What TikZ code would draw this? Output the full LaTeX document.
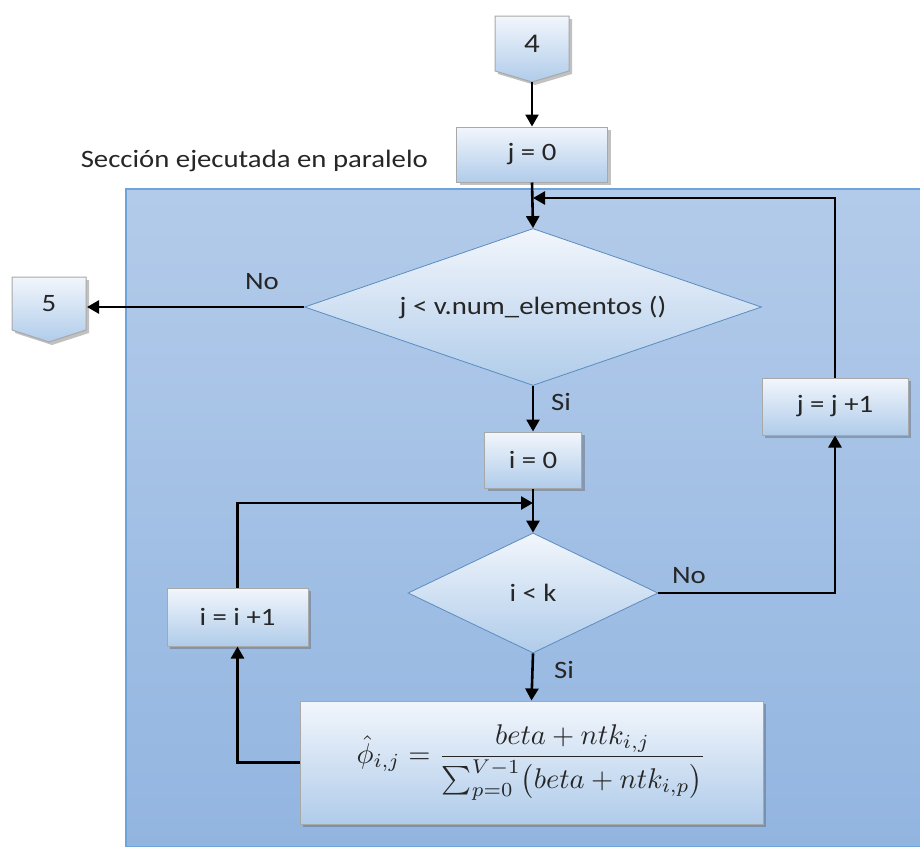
\documentclass[tikz,border=0pt]{standalone}
\usepackage{fontspec}
\setmainfont{Carlito}[FakeStretch=1.15]
\usepackage{graphicx}
\usetikzlibrary{shapes.geometric,arrows.meta,shadows}
\definecolor{regtop}{HTML}{B3CBEA}
\definecolor{regbot}{HTML}{92B5E0}
\definecolor{regborder}{HTML}{6FA3DB}
\definecolor{boxtop}{HTML}{F2F6FC}
\definecolor{boxbot}{HTML}{B0CCEA}
\definecolor{boxborder}{HTML}{A8A8A8}
\definecolor{dborder}{HTML}{5A8CC0}
\definecolor{txt}{HTML}{262626}
\tikzset{
  procbox/.style={rectangle, draw=boxborder, line width=1pt, top color=boxtop, bottom color=boxbot,
    drop shadow={shadow xshift=3pt, shadow yshift=-3pt, opacity=0.35, fill=black!70},
    inner sep=0pt, text=txt, font=\fontsize{25}{28}\selectfont},
  decision/.style={diamond, draw=dborder, line width=0.8pt, top color=boxtop, bottom color=boxbot,
    inner sep=0pt, text=txt, font=\fontsize{25}{28}\selectfont},
  offpage/.style={draw=boxborder, line width=1pt, top color=boxtop, bottom color=boxbot,
    drop shadow={shadow xshift=3pt, shadow yshift=-3pt, opacity=0.35, fill=black!70}},
  lbl/.style={text=txt, font=\fontsize{25}{28}\selectfont, inner sep=0pt},
  conn/.style={line width=2.6pt, black},
  arr/.style={conn, -{Triangle[length=12pt,width=13pt]}},
}
\begin{document}
\begin{tikzpicture}[x=1pt,y=-1pt]
\useasboundingbox (0,0) rectangle (920,846);
% parallel region
\path[top color=regtop, bottom color=regbot, draw=regborder, line width=1.5pt]
  (126,189) rectangle (921,847);
\node[lbl, anchor=east] (sec) at (428,161) {Sección ejecutada en paralelo};
% off-page connector 4
\path[offpage] (495,16) -- (569,16) -- (569,71) -- (532,82) -- (495,71) -- cycle;
\node[lbl, font=\fontsize{27}{30}\selectfont] (n4) at (532,44) {4};
\coordinate (n4s) at (532,82);
% off-page connector 5
\path[offpage] (12,277) -- (86,277) -- (86,330) -- (49,342) -- (12,330) -- cycle;
\node[lbl] (n5) at (49,304) {5};
\coordinate (n5e) at (87,307);
% nodes
\node[procbox, minimum width=151, minimum height=55] (j0) at (532,154.5) {j = 0};
\node[decision, minimum width=457, minimum height=157, aspect=2.9] (d1) at (533,307) {j < v.num\_elementos ()};
\node[procbox, minimum width=97, minimum height=56] (i0) at (533,460) {i = 0};
\node[procbox, minimum width=146, minimum height=57] (jj) at (835,406.5) {j = j +1};
\node[decision, minimum width=250, minimum height=120, aspect=2.08] (d2) at (533,593) {i < k};
\node[procbox, minimum width=141, minimum height=58] (ii) at (237.5,617) {i = i +1};
\node[procbox, minimum width=463, minimum height=123, font=\normalsize] (f) at (531.5,762.5)
  {\scalebox{2.85}{$\displaystyle \hat{\phi}_{i,j} = \frac{beta + ntk_{i,j}}{\textstyle\sum_{p=0}^{V-1}\bigl(beta + ntk_{i,p}\bigr)}$}};
% coordinates for loops
\coordinate (top1) at (533,198);
\coordinate (top2) at (533,503);
% connectors
\draw[arr] (n4s) -- (j0.north);
\draw[arr] (j0.south) -- (d1.north);
\draw[arr] (jj.north) |- (top1);
\draw[arr] (d1.west) -- (n5e);
\node[lbl] (no1) at (262,282) {No};
\draw[arr] (d1.south) -- (i0.north);
\node[lbl] (si1) at (561,402) {Si};
\draw[arr] (i0.south) -- (d2.north);
\draw[arr] (ii.north) |- (top2);
\draw[arr] (d2.east) -| (jj.south);
\node[lbl] (no2) at (689,576) {No};
\draw[arr] (d2.south) -- (f.north);
\node[lbl] (si2) at (564,670) {Si};
\draw[arr] (f.west) -| (ii.south);
\end{tikzpicture}
\end{document}
